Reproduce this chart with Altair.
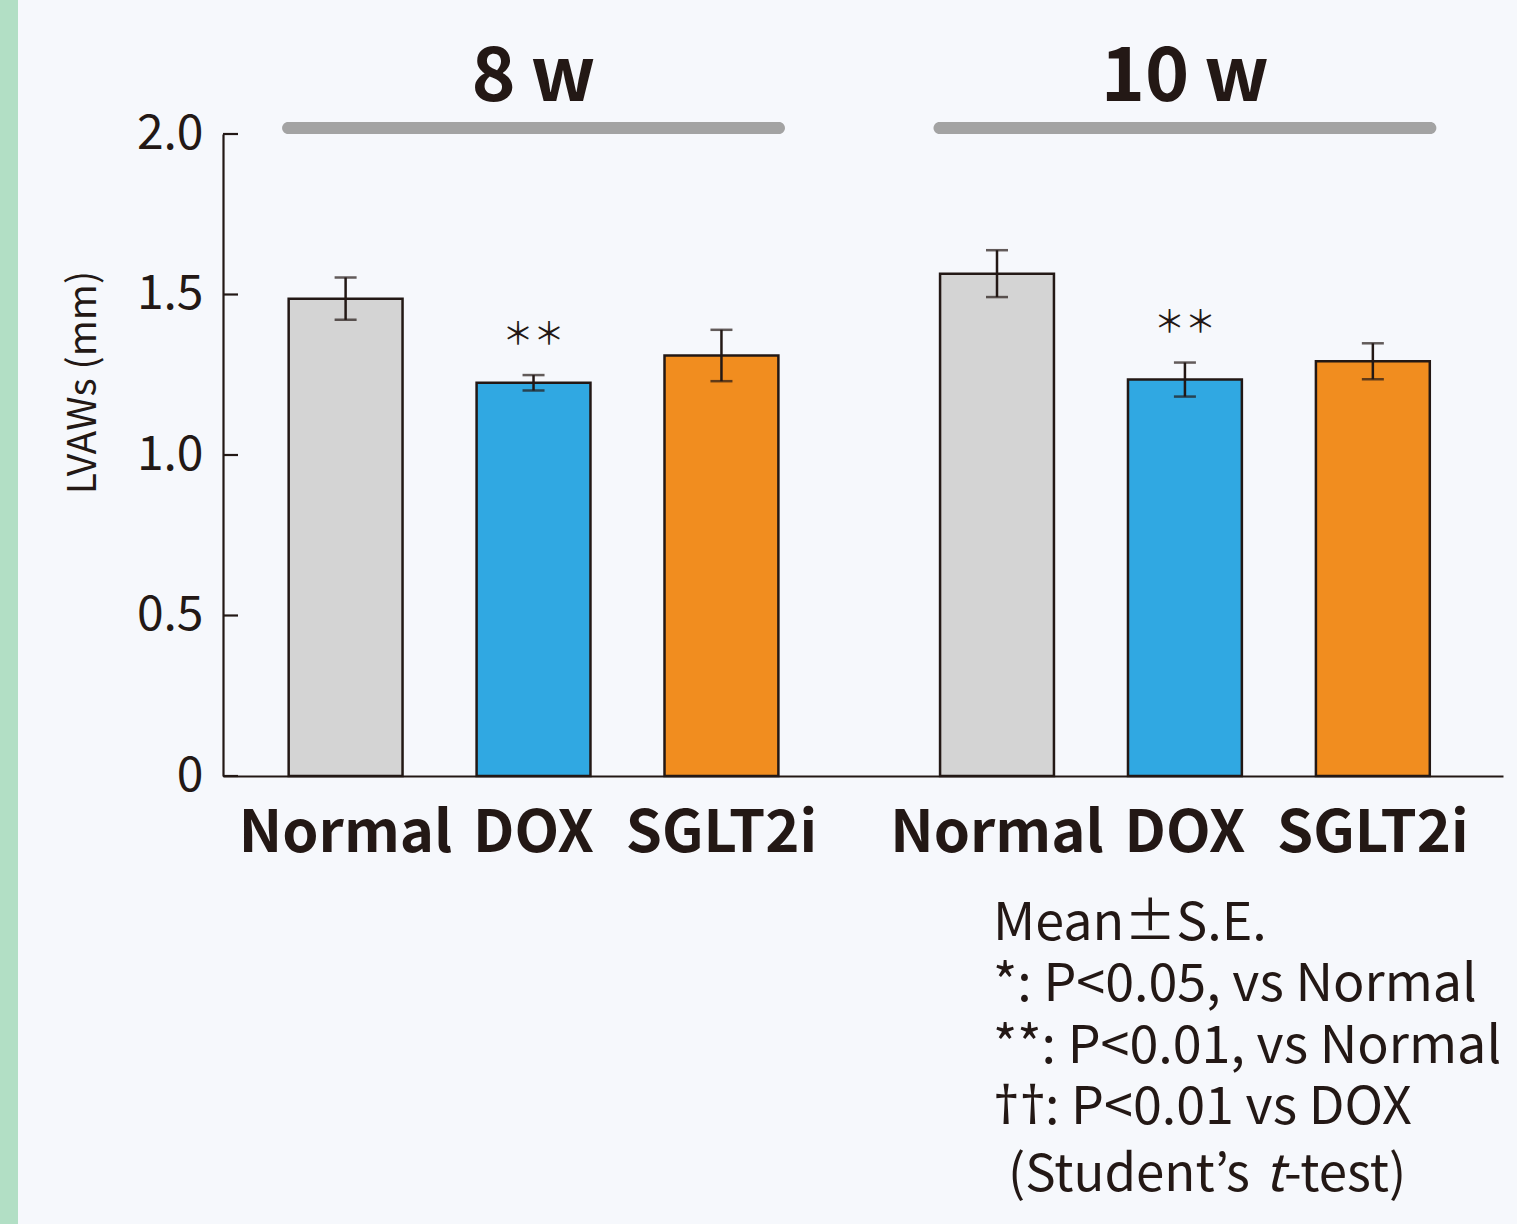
import altair as alt
import pandas as pd

# ---------------- data ----------------
groups = ["8\u2009w", "10\u2009w"]
categories = ["Normal", "DOX", "SGLT2i"]
means_8w = [1.487, 1.225, 1.310]
means_10w = [1.565, 1.235, 1.292]
se_8w = [0.066, 0.024, 0.080]
se_10w = [0.073, 0.053, 0.056]
sig_8w = ["", "\uff0a\uff0a", ""]
sig_10w = ["", "\uff0a\uff0a", ""]
y_ticks = [0, 0.5, 1.0, 1.5, 2.0]
note_lines = ["Mean\u00b1S.E.", "*: P<0.05, vs Normal", "**: P<0.01, vs Normal"]
note_dagger = ["\u2020\u2020", ": P<0.01 vs DOX"]
note_last = ["(Student\u2019s", "t", "-test)"]
y_title = "LVAWs (mm)"

colors = ["#D4D4D4", "#30A8E2", "#F18D1F"]
INK = "#231815"
FONT = "Noto Sans CJK JP"
BG = "#F6F8FC"
GREEN = "#B2DFC5"

rows = []
for g, ms, ss, sg in [(groups[0], means_8w, se_8w, sig_8w), (groups[1], means_10w, se_10w, sig_10w)]:
    for c, m, s, k in zip(categories, ms, ss, sg):
        rows.append({"group": g, "category": c, "mean": m, "se": s, "sig": k})
df = pd.DataFrame(rows)
gdf = pd.DataFrame({"group": groups})
tdf = pd.DataFrame({"v": y_ticks})

W, H = 1280, 642

x_scale = alt.Scale(domain=groups, paddingInner=0.228, paddingOuter=0.0965, align=0.47)
xo_scale = alt.Scale(domain=categories, paddingInner=0.394, paddingOuter=0.035)
y_scale = alt.Scale(domain=[0, 2], nice=False, zero=True)

x_axis = alt.Axis(title=None, labels=False, ticks=False, domain=True, domainColor=INK,
                  domainWidth=2.2, grid=False)
y_axis = alt.Axis(title=y_title, values=y_ticks,
                  labelExpr="datum.value == 0 ? '0' : format(datum.value, '.1f')",
                  labelFont=FONT, labelFontSize=48, labelColor=INK, labelPadding=20,
                  ticks=False, domain=True, domainColor=INK, domainWidth=2.2, grid=False,
                  titleFont=FONT, titleFontSize=39, titleFontWeight="normal", titleColor=INK,
                  titleX=-140, titleY=248, titleAngle=270, titleAlign="center",
                  titleBaseline="middle")

X = alt.X("group:N", scale=x_scale, axis=x_axis, sort=groups)
XO = alt.XOffset("category:N", scale=xo_scale, sort=categories)

def Y(field):
    return alt.Y(field, type="quantitative", scale=y_scale, axis=y_axis)

base = alt.Chart(df).transform_calculate(
    lo="datum.mean - datum.se", hi="datum.mean + datum.se"
)

one = alt.Data(values=[{"a": 1}])

strip = alt.Chart(one).mark_rect(color=GREEN).encode(
    x=alt.value(-223), x2=alt.value(-205), y=alt.value(-134), y2=alt.value(H + 448)
)

header_bar = alt.Chart(gdf).mark_bar(color="#A3A3A3", cornerRadius=6, orient="vertical").encode(
    x=X, y=alt.value(-12), y2=alt.value(0)
)
header_text = alt.Chart(gdf).mark_text(font=FONT, fontSize=75, fontWeight="bold", color=INK,
                                        baseline="alphabetic").encode(
    x=X, y=alt.value(-33), text="group:N"
)

bars = base.mark_bar(stroke=INK, strokeWidth=2.5).encode(
    x=X, xOffset=XO, y=Y("mean"),
    color=alt.Color("category:N", scale=alt.Scale(domain=categories, range=colors), legend=None),
)
err = base.mark_rule(color=INK, strokeWidth=2.5).encode(
    x=X, xOffset=XO, y=Y("lo"), y2="hi:Q"
)
cap_hi = base.mark_tick(color=INK, size=22, thickness=2.5).encode(x=X, xOffset=XO, y=Y("hi"))
cap_lo = base.mark_tick(color=INK, size=22, thickness=2.5).encode(x=X, xOffset=XO, y=Y("lo"))

stars = base.transform_filter("datum.sig != ''").mark_text(
    font=FONT, fontSize=31, color=INK, baseline="middle", dy=-40
).encode(x=X, xOffset=XO, y=Y("hi"), text="sig:N")

cat_labels = alt.Chart(df).mark_text(font=FONT, fontSize=58, fontWeight="bold", color=INK,
                                     baseline="alphabetic").encode(
    x=X, xOffset=XO, y=alt.value(H + 76), text="category:N"
)

ticks = alt.Chart(tdf).mark_rule(color=INK, strokeWidth=2.2).encode(
    y=Y("v"), x=alt.value(0), x2=alt.value(15)
)

def note_text(txt, x, y, size=52, **kw):
    return alt.Chart(one).mark_text(
        font=kw.pop("font", FONT), fontSize=size, color=INK, align="left",
        baseline="alphabetic", text=txt, **kw
    ).encode(x=alt.value(x), y=alt.value(y))

notes = [note_text(t, 770, 806 + i * 61.3) for i, t in enumerate(note_lines)]
notes.append(note_text(note_dagger[0], 770, 806 + 3 * 61.3, font="Noto Sans"))
notes.append(note_text(note_dagger[1], 822, 806 + 3 * 61.3))
notes.append(note_text(note_last[0], 785, 1057, size=51))
notes.append(note_text(note_last[1], 1042, 1057, size=51, fontStyle="italic"))
notes.append(note_text(note_last[2], 1061, 1057, size=51))

chart = alt.layer(
    strip, header_bar, header_text, bars, err, cap_hi, cap_lo, stars, cat_labels, ticks,
    *notes
).properties(
    width=W, height=H,
    autosize=alt.AutoSizeParams(type="none"),
    padding={"left": 223, "top": 134, "right": 14, "bottom": 448},
    background=BG,
).configure_view(stroke=None)

chart.save("out.html", embed_options={"renderer": "svg", "actions": False})
